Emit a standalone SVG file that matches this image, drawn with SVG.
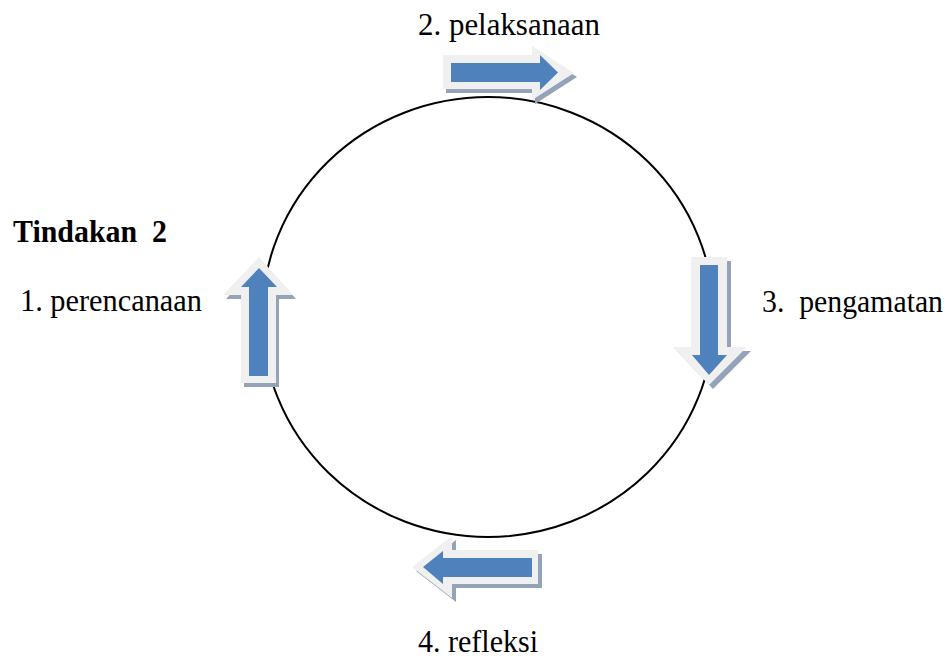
<svg xmlns="http://www.w3.org/2000/svg" width="949" height="659" viewBox="0 0 949 659">
<defs>
<style>
.t{font-family:"Liberation Serif","Times New Roman",serif;font-size:31px;fill:#000}
.b{font-weight:bold}
.sh{fill:#95a3b8}
.out{fill:#f0f0f0}
.in{fill:#4f81bd}
</style>
</defs>
<rect width="949" height="659" fill="#fff"/>
<g id="connectors">
<ellipse cx="488" cy="317" rx="226" ry="220" fill="none" stroke="#000" stroke-width="2"/>
</g>
<g id="arrow-pelaksanaan">
<path class="sh" d="M446,59 L535,59 L535,50 L577,77 L535,104 L535,93 L446,93 Z"/>
<path class="out" d="M443,55 L532,55 L532,46 L574,73 L532,100 L532,89 L443,89 Z"/>
<path class="in" d="M451,63 L540,63 L540,55 L558,72.5 L540,90 L540,82 L451,82 Z"/>
</g>
<g id="arrow-perencanaan">
<path class="sh" d="M244,387 L244,299 L226,299 L262,261 L296,299 L279,299 L279,387 Z"/>
<path class="out" d="M241,383 L241,295 L223,295 L259,257 L293,295 L276,295 L276,383 Z"/>
<path class="in" d="M249,376 L249,287 L241,287 L259,268 L277,287 L268,287 L268,376 Z"/>
</g>
<g id="arrow-pengamatan">
<path class="sh" d="M695,261 L731,261 L731,351 L751,351 L713,389 L677,351 L695,351 Z"/>
<path class="out" d="M691,257 L727,257 L727,347 L747,347 L709,385 L673,347 L691,347 Z"/>
<path class="in" d="M700,265 L718,265 L718,355 L727,355 L709,375 L692,355 L700,355 Z"/>
</g>
<g id="arrow-refleksi">
<path class="sh" d="M416,571 L456,540 L456,554 L542,554 L542,588 L456,588 L456,602 Z"/>
<path class="out" d="M412,567 L452,536 L452,550 L538,550 L538,584 L452,584 L452,598 Z"/>
<path class="in" d="M423,567 L443,551 L443,558 L532,558 L532,577 L443,577 L443,584 Z"/>
</g>
<g id="labels">
<text class="t" x="418" y="35" textLength="182" lengthAdjust="spacingAndGlyphs">2. pelaksanaan</text>
<text class="t b" x="13" y="242" textLength="154" lengthAdjust="spacingAndGlyphs" xml:space="preserve">Tindakan  2</text>
<text class="t" x="20" y="311" textLength="182" lengthAdjust="spacingAndGlyphs">1. perencanaan</text>
<text class="t" x="762" y="312" textLength="181" lengthAdjust="spacingAndGlyphs" xml:space="preserve">3.  pengamatan</text>
<text class="t" x="418" y="652" textLength="120" lengthAdjust="spacingAndGlyphs">4. refleksi</text>
</g>
</svg>
